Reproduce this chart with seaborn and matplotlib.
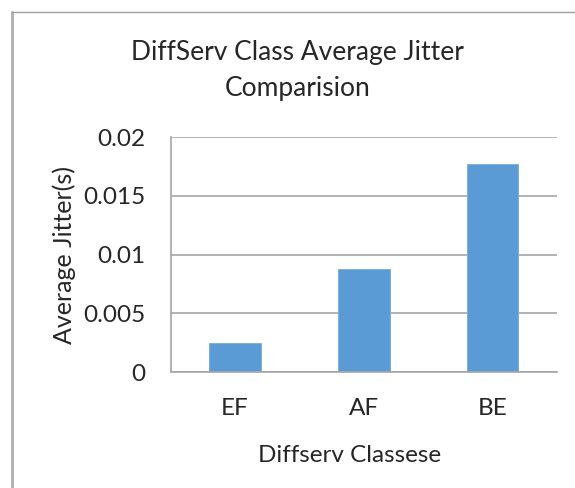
import matplotlib
matplotlib.use("Agg")
import matplotlib.pyplot as plt
import seaborn as sns
from matplotlib.lines import Line2D

classes = ["EF", "AF", "BE"]
jitter = [0.0025, 0.0088, 0.0177]
yticks = [0, 0.005, 0.01, 0.015, 0.02]
ytick_labels = ["0", "0.005", "0.01", "0.015", "0.02"]

sns.set_style("white")
plt.rcParams['font.family'] = ['Lato', 'DejaVu Sans']

grey = "#a6a6a6"
fig = plt.figure(figsize=(5.75, 4.88), dpi=100)
ax = fig.add_axes([0.2969, 0.2377, 0.6718, 0.4809])

sns.barplot(x=classes, y=jitter, color="#5B9BD5", saturation=1, width=0.4,
            edgecolor="#7fb1de", linewidth=0.7, ax=ax)

ax.set_xlim(-0.5, 2.5)
ax.set_ylim(0, 0.02)
ax.set_yticks(yticks)
ax.set_yticklabels(ytick_labels)
ax.yaxis.grid(True, color=grey, linewidth=1.2)
ax.set_axisbelow(True)
for s in ["top", "right"]:
    ax.spines[s].set_visible(False)
for s in ["left", "bottom"]:
    ax.spines[s].set_color(grey)
    ax.spines[s].set_linewidth(1.2)
ax.tick_params(axis="y", length=6, width=1.2, color=grey, pad=12.5, labelsize=17.5)
ax.tick_params(axis="x", length=0, pad=19, labelsize=17.5)
ax.set_xlabel("")
ax.set_ylabel("")

fig.text(0.518, 0.877, "DiffServ Class Average Jitter", ha="center", va="baseline", fontsize=19)
fig.text(0.518, 0.804, "Comparision", ha="center", va="baseline", fontsize=19)
fig.text(0.6087, 0.054, "Diffserv Classese", ha="center", va="baseline", fontsize=17.5)
fig.text(0.111, 0.4775, "Average Jitter(s)", ha="center", va="center", rotation=90, fontsize=18)

# chart area border (left and top edges visible)
fig.add_artist(Line2D([0.0209, 0.0209], [0, 0.9744], transform=fig.transFigure, color="#b4b4b4", linewidth=2.2))
fig.add_artist(Line2D([0.0209, 1.0], [0.9744, 0.9744], transform=fig.transFigure, color="#a0a0a0", linewidth=1.0))

fig.savefig("out.png", dpi=100)
